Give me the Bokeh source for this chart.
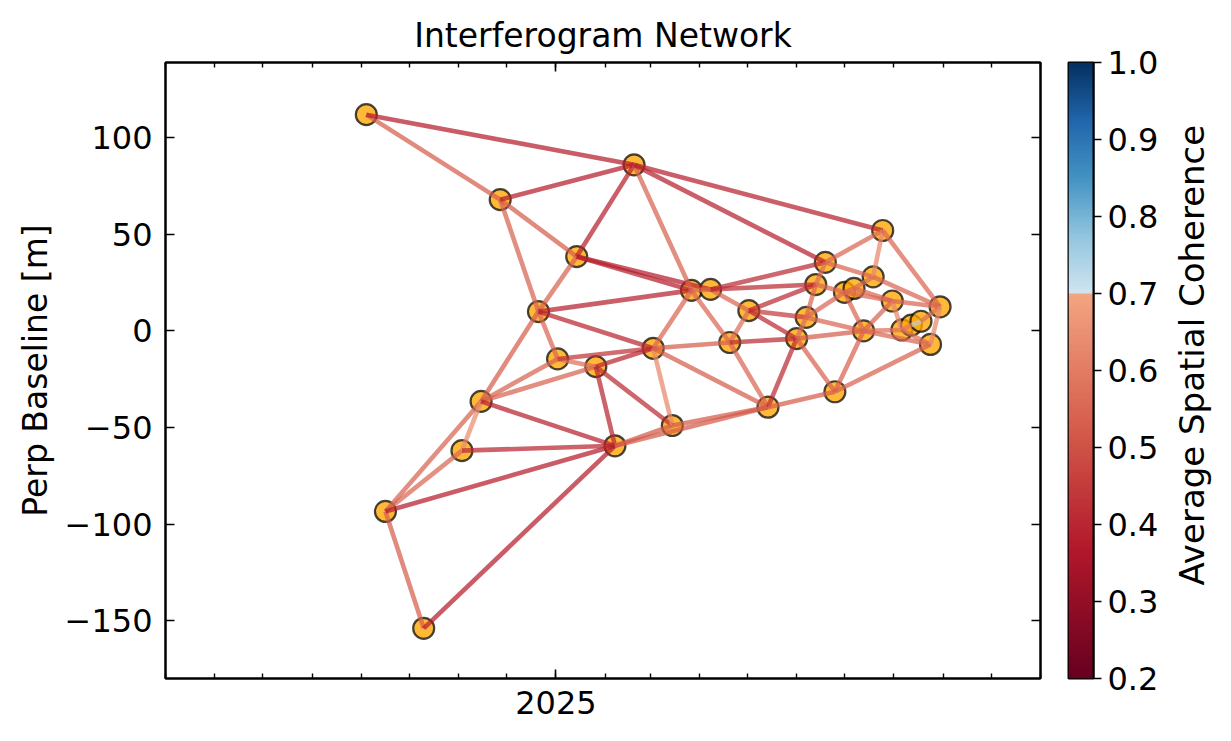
import math
import numpy as np
import pandas as pd
from bokeh.plotting import figure
from bokeh.models import (Range1d, LinearAxis, FixedTicker, CustomJSTickFormatter,
                          ColumnDataSource, LinearColorMapper)
from bokeh.core.properties import value
from bokeh.layouts import row
from bokeh.embed import file_html
from bokeh.resources import INLINE

# ---------------- data ----------------
dates = ["2024-09-04", "2024-09-16", "2024-10-10", "2024-11-03", "2024-11-15",
         "2024-11-27", "2024-12-21", "2025-01-02", "2025-01-14", "2025-01-26",
         "2025-02-07", "2025-02-19", "2025-03-03", "2025-03-15", "2025-03-27",
         "2025-04-08", "2025-04-20", "2025-05-02", "2025-05-14", "2025-06-01",
         "2025-06-07", "2025-06-13", "2025-06-19", "2025-06-25", "2025-07-01",
         "2025-07-07", "2025-07-13", "2025-07-19", "2025-07-25", "2025-07-31",
         "2025-08-06", "2025-08-12", "2025-08-18", "2025-08-24", "2025-08-30"]
bperp = [112.0, -93.5, -154.0, -62.0, -36.5,
         68.0, 10.0, -14.5, 38.5, -18.5,
         -59.5, 86.0, -9.0, -49.0, 21.0,
         21.5, -6.0, 10.5, -39.5, -4.0,
         7.0, 24.0, 35.5, -31.5, 20.0,
         22.0, 0.0, 28.0, 52.0, 15.5,
         0.5, 3.0, 5.0, -7.0, 12.5]

pair_ref = [0, 0, 1, 1, 1, 1, 2, 3, 3, 4, 4, 4, 4, 5, 5, 5, 6, 6, 6, 6,
            7, 7, 8, 8, 8, 9, 9, 9, 10, 10, 11, 11, 11, 12, 12, 12, 12, 13,
            14, 14, 15, 15, 15, 16, 16, 16, 17, 17, 17, 18, 18, 19, 19, 19,
            20, 20, 20, 21, 21, 22, 22, 23, 23, 24, 24, 24, 25, 25, 26, 26,
            26, 27, 27, 28, 29, 29, 30, 30, 31, 32, 33]
pair_sec = [5, 11, 2, 3, 4, 10, 10, 4, 10, 6, 7, 9, 10, 6, 8, 11, 7, 8, 12, 14,
            9, 12, 11, 14, 15, 10, 12, 13, 13, 18, 14, 22, 28, 13, 14, 16, 18, 18,
            15, 16, 17, 21, 22, 17, 18, 19, 19, 20, 21, 19, 23, 20, 23, 26,
            21, 24, 26, 22, 24, 27, 28, 26, 33, 25, 26, 29, 27, 29, 29, 30,
            33, 28, 34, 34, 30, 34, 31, 33, 32, 34, 34]
coherence = [0.53, 0.38, 0.53, 0.55, 0.54, 0.38, 0.38, 0.64, 0.40, 0.53, 0.54, 0.54, 0.39, 0.54, 0.53, 0.38, 0.55, 0.54, 0.40, 0.39,
             0.57, 0.43, 0.39, 0.38, 0.38, 0.40, 0.40, 0.41, 0.52, 0.52, 0.54, 0.39, 0.39, 0.63, 0.55, 0.53, 0.53, 0.52,
             0.55, 0.55, 0.55, 0.41, 0.41, 0.57, 0.55, 0.41, 0.41, 0.45, 0.41, 0.41, 0.53, 0.57, 0.54, 0.53,
             0.55, 0.55, 0.55, 0.57, 0.55, 0.55, 0.55, 0.54, 0.54, 0.55, 0.55, 0.55, 0.57, 0.55, 0.54, 0.57,
             0.55, 0.63, 0.55, 0.55, 0.63, 0.55, 0.59, 0.57, float("nan"), 0.57, 0.63]

cbar_ticks = [0.2, 0.3, 0.4, 0.5, 0.6, 0.7, 0.8, 0.9, 1.0]
y_ticks = [-150, -100, -50, 0, 50, 100]
cbar_label = "Average Spatial Coherence"

# ---------------- helpers ----------------
def to_ms(d):
    return (pd.Timestamp(d) - pd.Timestamp("1970-01-01")) / pd.Timedelta(milliseconds=1)

x_ms = [to_ms(d) for d in dates]

rdbu = [(0.0, (103, 0, 31)), (0.1, (178, 24, 43)), (0.2, (214, 96, 77)),
        (0.3, (244, 165, 130)), (0.4, (253, 219, 199)), (0.5, (247, 247, 247)),
        (0.6, (209, 229, 240)), (0.7, (146, 197, 222)), (0.8, (67, 147, 195)),
        (0.9, (33, 102, 172)), (1.0, (5, 48, 97))]

def rdbu_at(t):
    for (t0, c0), (t1, c1) in zip(rdbu[:-1], rdbu[1:]):
        if t <= t1:
            f = (t - t0) / (t1 - t0)
            return tuple(int(round(a + (b - a) * f)) for a, b in zip(c0, c1))
    return rdbu[-1][1]

palette = []
for v in np.linspace(0.2, 1.0, 256):
    if v < 0.7:
        t = (v - 0.2) / 0.5 * 0.3
    else:
        t = 0.6 + (v - 0.7) / 0.3 * 0.4
    palette.append("#%02x%02x%02x" % rdbu_at(t))

mapper = LinearColorMapper(palette=palette, low=0.2, high=1.0, nan_color="#c8c8c8")

FONT = "DejaVu Sans"
FS = "32px"
LFS = "33px"

# ---------------- main plot ----------------
p = figure(frame_width=875, frame_height=616,
           x_range=Range1d(to_ms("2024-05-01"), to_ms("2025-11-01")),
           y_range=Range1d(-180, 139),
           x_axis_location=None, y_axis_location=None,
           toolbar_location=None, output_backend="svg",
           min_border_left=165, min_border_right=18,
           min_border_top=62, min_border_bottom=55,
           title="Interferogram Network")
p.title.align = "center"
p.title.text_font = FONT
p.title.text_font_size = "33px"
p.title.text_font_style = "normal"
p.title.text_color = "black"
p.title.standoff = 15
p.outline_line_color = "black"
p.outline_line_width = 2
p.background_fill_color = "white"
p.border_fill_color = "white"
for g in p.grid:
    g.visible = False

jan = to_ms("2025-01-01")
months = [to_ms(d) for d in pd.date_range("2024-05-01", "2025-11-01", freq="MS")]
xt = FixedTicker(ticks=[jan], minor_ticks=months)
yt = FixedTicker(ticks=y_ticks, minor_ticks=[])

def style_axis(ax, labels=True):
    ax.major_tick_in = 9
    ax.major_tick_out = 0
    ax.minor_tick_in = 5
    ax.minor_tick_out = 0
    ax.major_tick_line_width = 1.6
    ax.minor_tick_line_width = 1.4
    ax.major_tick_line_color = "black"
    ax.minor_tick_line_color = "black"
    ax.axis_line_width = 2
    ax.axis_line_color = "black"
    ax.major_label_text_font = FONT
    ax.major_label_text_color = "black"
    if labels:
        ax.major_label_text_font_size = FS
    else:
        ax.major_label_text_font_size = "0px"
        ax.major_label_standoff = 0

xb = LinearAxis(ticker=xt, formatter=CustomJSTickFormatter(
    code="return String(new Date(tick).getUTCFullYear());"))
style_axis(xb)
xb.major_label_standoff = 12
p.add_layout(xb, "below")

xa = LinearAxis(ticker=xt, formatter=CustomJSTickFormatter(code="return '';"))
style_axis(xa, labels=False)
p.add_layout(xa, "above")

minus_fmt = CustomJSTickFormatter(
    code="return tick < 0 ? '\u2212' + Math.abs(tick) : String(tick);")
yl = LinearAxis(ticker=yt, formatter=minus_fmt, axis_label="Perp Baseline [m]")
style_axis(yl)
yl.major_label_standoff = 13
yl.axis_label_text_font = FONT
yl.axis_label_text_font_size = LFS
yl.axis_label_text_font_style = "normal"
yl.axis_label_text_color = "black"
yl.axis_label_standoff = 7
p.add_layout(yl, "left")

yr = LinearAxis(ticker=yt, formatter=CustomJSTickFormatter(code="return '';"))
style_axis(yr, labels=False)
p.add_layout(yr, "right")

# nodes
p.scatter(x_ms, bperp, size=21, marker="circle", fill_color="orange",
          fill_alpha=0.78, line_color="black", line_alpha=0.72, line_width=2.2)

# edges
src = ColumnDataSource(dict(
    x0=[x_ms[i] for i in pair_ref], y0=[bperp[i] for i in pair_ref],
    x1=[x_ms[j] for j in pair_sec], y1=[bperp[j] for j in pair_sec],
    coh=coherence))
p.segment("x0", "y0", "x1", "y1", source=src, line_width=4.6, line_alpha=0.72,
          line_color={"field": "coh", "transform": mapper})

# ---------------- colorbar ----------------
cb = figure(frame_width=25, frame_height=616,
            x_range=Range1d(0, 1), y_range=Range1d(0.2, 1.0),
            x_axis_location=None, y_axis_location=None,
            toolbar_location=None, output_backend="svg",
            min_border_left=10, min_border_right=72,
            min_border_top=62, min_border_bottom=55)
cb.outline_line_color = "black"
cb.outline_line_width = 2
for g in cb.grid:
    g.visible = False
grad = np.linspace(0.2, 1.0, 512).reshape(-1, 1)
cb.image(image=[grad], x=0, y=0.2, dw=1, dh=0.8, color_mapper=mapper)

ca = LinearAxis(ticker=FixedTicker(ticks=cbar_ticks, minor_ticks=[]),
                formatter=CustomJSTickFormatter(code="return tick.toFixed(1);"))
ca.major_tick_out = 8
ca.major_tick_in = 0
ca.minor_tick_out = 0
ca.major_tick_line_width = 1.6
ca.major_tick_line_color = "black"
ca.axis_line_width = 2
ca.axis_line_color = "black"
ca.major_label_standoff = 6
ca.major_label_text_font = FONT
ca.major_label_text_font_size = FS
ca.major_label_text_color = "black"
cb.add_layout(ca, "right")

# colorbar label panel (text reads bottom-to-top)
lab = figure(frame_width=50, frame_height=616,
             x_range=Range1d(0, 1), y_range=Range1d(0, 1),
             x_axis_location=None, y_axis_location=None,
             toolbar_location=None, output_backend="svg",
             min_border_left=0, min_border_right=0,
             min_border_top=62, min_border_bottom=55)
lab.outline_line_color = None
for g in lab.grid:
    g.visible = False
lab.text(x=[0.52], y=[0.525], text=[cbar_label], angle=math.pi / 2,
         text_align="center", text_baseline="middle",
         text_font=value(FONT), text_font_size="34px", text_color="black")

layout = row(p, cb, lab)
open("out.html", "w").write(file_html(layout, INLINE))
